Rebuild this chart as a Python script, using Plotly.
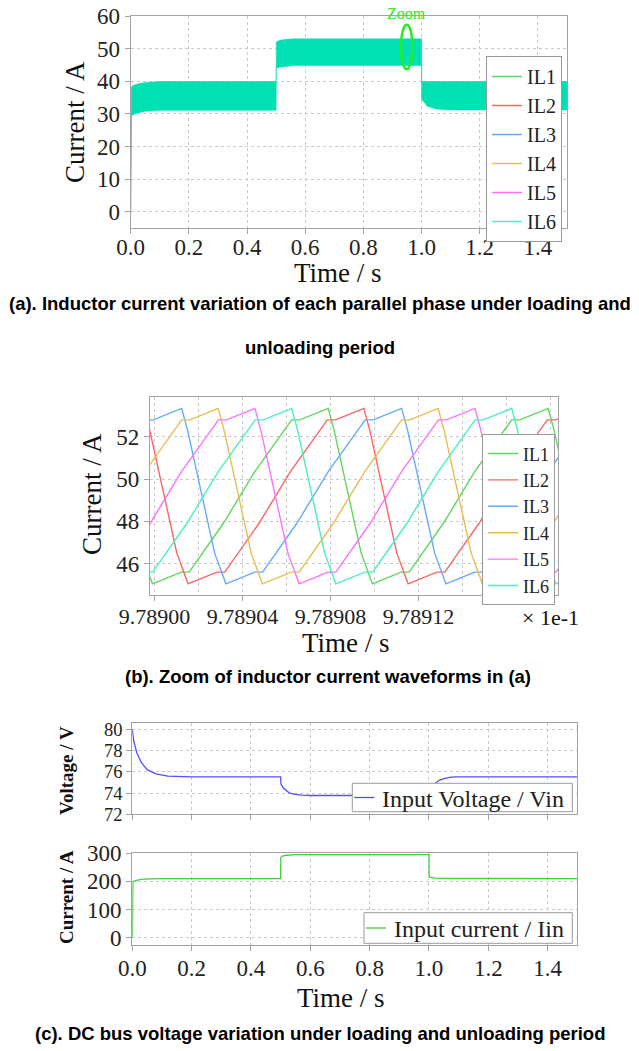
import plotly.graph_objects as go

W, H = 639, 1051

# ---------------- (a) six interleaved inductor currents, 0 .. 1.5 s ----------------
# Ripple envelope of the stacked phase currents (A)
env_upper_t = [0.0, 0.002, 0.01, 0.03, 0.06, 0.10, 0.50, 0.5005, 0.51, 0.53, 0.56, 1.0, 1.0005, 1.5]
env_upper_i = [0.0, 38.2, 38.8, 39.3, 39.7, 39.9, 39.9, 52.0, 52.5, 52.8, 53.0, 53.0, 39.9, 39.9]
env_lower_t = [0.0, 0.003, 0.02, 0.05, 0.10, 0.50, 0.5005, 0.51, 0.53, 0.56, 1.0, 1.0005, 1.02, 1.05, 1.10, 1.5]
env_lower_i = [0.0, 29.5, 30.2, 30.8, 31.1, 31.1, 44.0, 44.3, 44.6, 44.8, 44.8, 34.5, 32.3, 31.5, 31.2, 31.2]

phase_names = ["IL1", "IL2", "IL3", "IL4", "IL5", "IL6"]
phase_colors = ["#5fd65f", "#ff6464", "#64aaff", "#e8bd50", "#ff70ff", "#4aeec6"]
band_color = "#00e0b2"

# ---------------- (b) zoomed waveforms (time axis in units of 1e-1 s) ----------------
zoom_base = 9.789            # axis origin of the offsets below
zoom_unit = 1e-6             # offsets are in micro-units of the axis
# one switching cycle, offsets from the current peak
cycle_offset = [0.0, 2.7, 15.0, 20.1, 33.2, 36.8, 52.3, 66.7, 83.4, 87.1]
cycle_value = [53.34, 52.3, 46.5, 45.05, 45.6, 45.6, 47.9, 50.36, 52.8, 52.8]
cycle_period = 100.0
# first peak of each phase inside the window
phase_peak = [78.9, 95.1, 12.3, 28.9, 45.6, 62.3]

# ---------------- (c) DC bus voltage and input current ----------------
vin_t = [0.0, 0.005, 0.015, 0.03, 0.05, 0.08, 0.12, 0.2, 0.5, 0.501, 0.51, 0.52, 0.53, 0.545, 0.57, 0.6,
         1.0, 1.002, 1.01, 1.02, 1.035, 1.05, 1.07, 1.09, 1.15, 1.5]
vin_v = [80.0, 78.9, 77.8, 76.9, 76.2, 75.8, 75.6, 75.53, 75.53, 74.85, 74.45, 74.2, 74.0, 73.9, 73.8, 73.77,
         73.77, 74.3, 74.6, 74.9, 75.2, 75.35, 75.47, 75.52, 75.53, 75.53]
iin_t = [0.0, 0.0005, 0.002, 0.01, 0.03, 0.06, 0.1, 0.5, 0.5005, 0.505, 0.52, 0.55, 0.6, 1.0, 1.0005, 1.005, 1.02, 1.05, 1.5]
iin_a = [0.0, 150.0, 198.0, 203.0, 207.0, 209.0, 210.0, 210.0, 285.0, 290.0, 293.0, 295.0, 295.0, 295.0, 218.0, 214.0, 212.0, 211.0, 210.0]

SERIF = "Liberation Serif"
SANS = "Liberation Sans"
GRID = "#c9c9c9"
AXLINE = "#a2a2a2"
VIN_COLOR = "#5050ff"
IIN_COLOR = "#3fd03f"


def px_x(p):
    return p / W


def px_y(p):
    return 1 - p / H


fig = go.Figure()

# (a) ripple band
fig.add_trace(go.Scatter(
    x=env_upper_t + env_lower_t[::-1],
    y=env_upper_i + env_lower_i[::-1],
    fill="toself", fillcolor=band_color, mode="lines",
    line=dict(color=band_color, width=0.6),
    showlegend=False, hoverinfo="skip", xaxis="x", yaxis="y"))
for name, col in zip(phase_names, phase_colors):
    fig.add_trace(go.Scatter(x=[None], y=[None], mode="lines", name=name,
                             line=dict(color=col, width=1.5),
                             xaxis="x", yaxis="y", legend="legend"))

# (b) phase currents
for name, col, p0 in zip(phase_names, phase_colors, phase_peak):
    xs, ys = [], []
    for k in range(-2, 3):
        start = p0 + k * cycle_period
        for off, val in zip(cycle_offset, cycle_value):
            xs.append(zoom_base + (start + off) * zoom_unit)
            ys.append(val)
    fig.add_trace(go.Scatter(x=xs, y=ys, mode="lines", name=name,
                             line=dict(color=col, width=1.4),
                             xaxis="x2", yaxis="y2", legend="legend2"))

# (c) bus voltage and input current
fig.add_trace(go.Scatter(x=vin_t, y=vin_v, mode="lines", name="Input Voltage / Vin",
                         line=dict(color=VIN_COLOR, width=1.3), showlegend=False,
                         xaxis="x3", yaxis="y3"))
fig.add_trace(go.Scatter(x=iin_t, y=iin_a, mode="lines", name="Input current / Iin",
                         line=dict(color=IIN_COLOR, width=1.3), showlegend=False,
                         xaxis="x4", yaxis="y4"))


def axis(**kw):
    base = dict(showline=True, mirror=True, linecolor=AXLINE, linewidth=1.2,
                showgrid=True, gridcolor=GRID, griddash="dot", gridwidth=1,
                zeroline=False, ticks="outside", ticklen=5, tickcolor=AXLINE,
                automargin=False,
                tickfont=dict(family=SERIF, size=23, color="#222"))
    base.update(kw)
    return base


def legend_box(right, top, size):
    return dict(x=px_x(right), y=px_y(top), xanchor="right", yanchor="top",
                bgcolor="white", bordercolor="#9a9a9a", borderwidth=1, tracegroupgap=0,
                font=dict(family=SERIF, size=size, color="#222"))


fig.update_layout(
    template="none",
    width=W, height=H,
    margin=dict(l=0, r=0, t=0, b=0),
    paper_bgcolor="white", plot_bgcolor="white",
    showlegend=True,
    xaxis=axis(domain=[px_x(130.7), px_x(567)], range=[0, 1.5], dtick=0.2, tickformat=".1f",
               anchor="y", ticklabelstandoff=-7),
    yaxis=axis(domain=[px_y(228), px_y(16)], range=[-5, 60], dtick=10, anchor="x"),
    xaxis2=axis(domain=[px_x(150), px_x(558.3)], range=[9.7889979, 9.7891835],
                tickmode="array",
                tickvals=[9.78900, 9.78904, 9.78908, 9.78912],
                ticktext=["9.78900", "9.78904", "9.78908", "9.78912"],
                minor=dict(tickmode="linear", tick0=9.789, dtick=0.00002, showgrid=True,
                           gridcolor=GRID, griddash="dot", ticks=""),
                anchor="y2", ticklabelstandoff=-4,
                tickfont=dict(family=SERIF, size=22, color="#222")),
    yaxis2=axis(domain=[px_y(595), px_y(397)], range=[44.52, 53.88],
                tickvals=[46, 48, 50, 52], anchor="x2"),
    xaxis3=axis(domain=[px_x(132.3), px_x(577.3)], range=[0, 1.5], dtick=0.2,
                showticklabels=False, anchor="y3"),
    yaxis3=axis(domain=[px_y(814.3), px_y(723.3)], range=[72, 80.57], dtick=2, anchor="x3",
                tickfont=dict(family=SERIF, size=18.5, color="#222")),
    xaxis4=axis(domain=[px_x(132.3), px_x(577.3)], range=[0, 1.5], dtick=0.2, tickformat=".1f",
                anchor="y4", ticklabelstandoff=-3),
    yaxis4=axis(domain=[px_y(945), px_y(853.3)], range=[-26, 300], dtick=100, anchor="x4"),
    legend=legend_box(562, 56, 20),
    legend2=legend_box(555, 434.3, 18),
)

# zoom marker on (a)
fig.add_shape(type="circle", xref="x", yref="y", x0=0.929, x1=0.969, y0=43.7, y1=57.3,
              line=dict(color="#22ee22", width=2.5))


def label(text, x, y, size, family=SERIF, bold=False, angle=0, color="#111", anchor="center"):
    fig.add_annotation(text=f"<b>{text}</b>" if bold else text,
                       x=px_x(x), y=px_y(y), xref="paper", yref="paper",
                       xanchor=anchor, yanchor="middle", showarrow=False,
                       textangle=angle, font=dict(family=family, size=size, color=color))


def key_box(left, top, right, bottom, color, text):
    """Compact single-entry key for the panels in (c)."""
    fig.add_shape(type="rect", xref="paper", yref="paper", layer="above",
                  x0=px_x(left), x1=px_x(right), y0=px_y(bottom), y1=px_y(top),
                  fillcolor="white", line=dict(color="#9a9a9a", width=1))
    mid = (top + bottom) / 2
    fig.add_shape(type="line", xref="paper", yref="paper", layer="above",
                  x0=px_x(left + 2), x1=px_x(left + 22), y0=px_y(mid), y1=px_y(mid),
                  line=dict(color=color, width=1.3))
    label(text, left + 28, mid + 1, 24, color="#222", anchor="left")


key_box(352.3, 783.3, 572.3, 811.7, VIN_COLOR, "Input Voltage / Vin")
key_box(364.0, 912.7, 572.3, 943.3, IIN_COLOR, "Input current / Iin")

label("Zoom", 406.5, 14, 16, color="#22ee22")

# axis titles
label("Current / A", 75, 122, 27, angle=-90)
label("Time / s", 338, 273, 27)
label("Current / A", 92, 494, 27, angle=-90)
label("Time / s", 346, 643, 27)
label("× 1e-1", 550, 617, 22)
label("Voltage / V", 66, 771, 19, bold=True, angle=-90)
label("Current / A", 66, 897, 19, bold=True, angle=-90)
label("Time / s", 341, 998, 27)

# captions
label("(a). Inductor current variation of each parallel phase under loading and", 320, 304, 18.5, family=SANS, bold=True, color="#000")
label("unloading period", 320, 347, 18.5, family=SANS, bold=True, color="#000")
label("(b). Zoom of inductor current waveforms in (a)", 328, 676, 18.5, family=SANS, bold=True, color="#000")
label("(c). DC bus voltage variation under loading and unloading period", 320, 1033, 18.5, family=SANS, bold=True, color="#000")

fig.write_html("out.html")
